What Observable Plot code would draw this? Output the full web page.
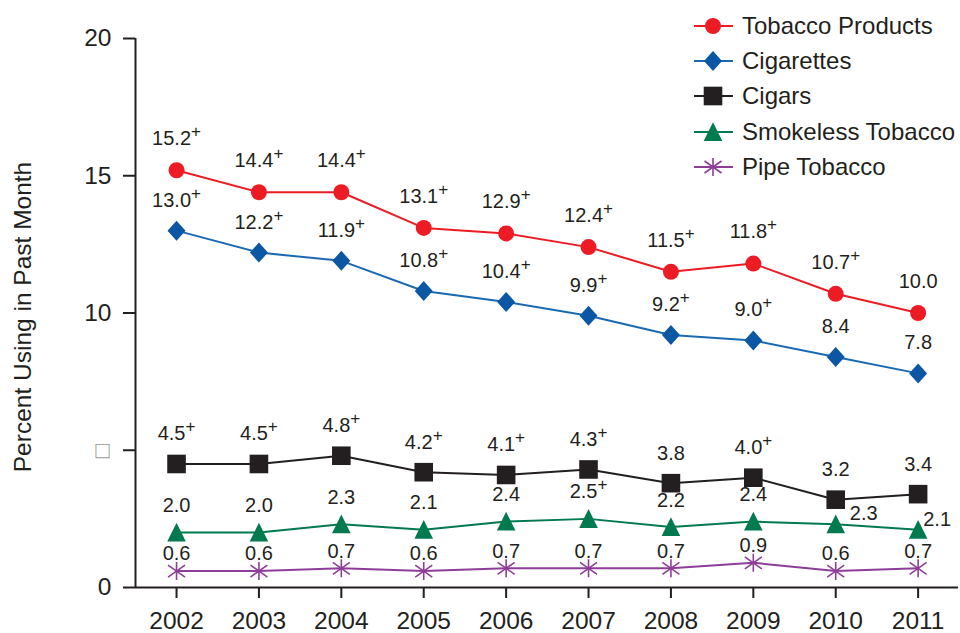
<!DOCTYPE html>
<html><head><meta charset="utf-8">
<script src="https://cdn.jsdelivr.net/npm/d3@7"></script>
<script src="https://cdn.jsdelivr.net/npm/@observablehq/plot@0.6"></script>
<style>
body{margin:0;background:#fff;font-family:"Liberation Sans",Arial,sans-serif;}
#wrap{position:relative;width:960px;height:633px;overflow:hidden;}
#legend{position:absolute;left:690px;top:8.5px;}
.row{display:flex;align-items:center;height:35.2px;}
.row span{font-size:24px;color:#231f20;margin-left:4px;white-space:nowrap;}
</style></head><body>
<div id="wrap"><div id="chart"></div><div id="legend"></div></div>
<script>
const years = [2002, 2003, 2004, 2005, 2006, 2007, 2008, 2009, 2010, 2011];
const seriesNames = ["Tobacco Products", "Cigarettes", "Cigars", "Smokeless Tobacco", "Pipe Tobacco"];
const tobaccoProducts = [15.2, 14.4, 14.4, 13.1, 12.9, 12.4, 11.5, 11.8, 10.7, 10.0];
const cigarettes      = [13.0, 12.2, 11.9, 10.8, 10.4, 9.9, 9.2, 9.0, 8.4, 7.8];
const cigars          = [4.5, 4.5, 4.8, 4.2, 4.1, 4.3, 3.8, 4.0, 3.2, 3.4];
const smokeless       = [2.0, 2.0, 2.3, 2.1, 2.4, 2.5, 2.2, 2.4, 2.3, 2.1];
const pipeTobacco     = [0.6, 0.6, 0.7, 0.6, 0.7, 0.7, 0.7, 0.9, 0.6, 0.7];
// "+" marks: difference from 2011 statistically significant
const tobaccoSig   = [1, 1, 1, 1, 1, 1, 1, 1, 1, 0];
const cigarettesSig = [1, 1, 1, 1, 1, 1, 1, 1, 0, 0];
const cigarsSig    = [1, 1, 1, 1, 1, 1, 0, 1, 0, 0];
const smokelessSig = [0, 0, 0, 0, 0, 1, 0, 0, 0, 0];
const pipeSig      = [0, 0, 0, 0, 0, 0, 0, 0, 0, 0];
const yTicks = [0, 5, 10, 15, 20];

const seriesValues = [tobaccoProducts, cigarettes, cigars, smokeless, pipeTobacco];
const seriesSig = [tobaccoSig, cigarettesSig, cigarsSig, smokelessSig, pipeSig];
const lineColors = ["#ed1c24", "#1a69b3", "#231f20", "#007a4e", "#8e3e98"];
const markColors = ["#ed1c24", "#0b57a4", "#231f20", "#007a4e", "#8e3e98"];
const labelDy = [-31.5, -30.5, -30, -27, -17];

const symDiamond = {draw(c){c.moveTo(0,-10);c.lineTo(9,0);c.lineTo(0,10);c.lineTo(-9,0);c.closePath();}};
const symSquare = {draw(c){c.rect(-9.3,-9.3,18.6,18.6);}};
const symTriangle = {draw(c){c.moveTo(0,-9.8);c.lineTo(9.3,9);c.lineTo(-9.3,9);c.closePath();}};
const symAsterisk = {draw(c){c.moveTo(0,-9);c.lineTo(0,9);c.moveTo(-8.5,-6);c.lineTo(8.5,6);c.moveTo(-8.5,6);c.lineTo(8.5,-6);}};
const symbols = ["circle", symDiamond, symSquare, symTriangle, symAsterisk];

const rows = [];
seriesNames.forEach((s, i) => years.forEach((yr, j) => rows.push({
  series: s, si: i, year: yr, value: seriesValues[i][j],
  label: seriesValues[i][j].toFixed(1) + (seriesSig[i][j] ? "+" : "")
})));

const marks = [];
seriesNames.forEach((s, i) => {
  const d = rows.filter(r => r.si === i);
  marks.push(Plot.line(d, {x: "year", y: "value", stroke: lineColors[i], strokeWidth: 2}));
});
seriesNames.forEach((s, i) => {
  const d = rows.filter(r => r.si === i);
  if (i === 4) {
    marks.push(Plot.dot(d, {x: "year", y: "value", symbol: () => symbols[i], r: 8, fill: "none", stroke: markColors[i], strokeWidth: 1.6}));
  } else {
    marks.push(Plot.dot(d, {x: "year", y: "value", symbol: () => symbols[i], r: 8, fill: markColors[i], stroke: "none"}));
  }
});
const labelStyle = {x: "year", y: "value", text: "label", fontSize: 20, fill: "#231f20", lineAnchor: "middle", textAnchor: "middle"};
seriesNames.forEach((s, i) => {
  const d = rows.filter(r => r.si === i);
  if (i === 3) {
    marks.push(Plot.text(d.filter(r => r.year < 2010), {...labelStyle, dy: labelDy[i]}));
    marks.push(Plot.text(d.filter(r => r.year === 2010), {...labelStyle, dx: 28, dy: -10.5}));
    marks.push(Plot.text(d.filter(r => r.year === 2011), {...labelStyle, dx: 19, dy: -10}));
  } else {
    marks.push(Plot.text(d, {...labelStyle, dy: labelDy[i]}));
  }
});

const chart = Plot.plot({
  width: 960, height: 633,
  marginLeft: 135, marginRight: 2, marginTop: 38, marginBottom: 46,
  style: {fontFamily: '"Liberation Sans", Arial, sans-serif', color: "#231f20", background: "#fff"},
  x: {domain: [2001.502, 2011.49]},
  y: {domain: [0, 20]},
  marks: [
    Plot.axisX({ticks: years, tickFormat: d => String(d), tickSize: 11, tickPadding: 13, fontSize: 24.5, strokeWidth: 2, label: null}),
    Plot.axisY({ticks: yTicks, tickFormat: d => d === 5 ? "\u25A1" : String(d), tickSize: 12, tickPadding: 12, fontSize: 24.5, strokeWidth: 2, label: null}),
    Plot.ruleX([2001.502], {stroke: "#231f20", strokeWidth: 2}),
    Plot.ruleY([0], {stroke: "#231f20", strokeWidth: 2}),
    Plot.text(["Percent Using in Past Month"], {frameAnchor: "left", textAnchor: "middle", lineAnchor: "middle", rotate: -90, dx: -112, dy: 4, fontSize: 24.5, fill: "#231f20"}),
    ...marks
  ]
});

d3.select(chart).selectAll("text").each(function () {
  const t = this.textContent;
  if (/^\d+\.\d\+$/.test(t)) {
    const sel = d3.select(this);
    sel.text(t.slice(0, -1));
    sel.append("tspan").attr("dy", -8).attr("font-size", 17).text("+");
  } else if (t === "\u25A1") {
    d3.select(this).attr("fill", "#a8a8a8").attr("font-size", 19).attr("font-family", "DejaVu Sans");
  }
});
document.getElementById("chart").appendChild(chart);

// legend
const legend = d3.select("#legend");
seriesNames.forEach((s, i) => {
  const row = legend.append("div").attr("class", "row");
  const svg = row.append("svg").attr("width", 48).attr("height", 30);
  svg.append("line").attr("x1", 4).attr("x2", 43).attr("y1", 15).attr("y2", 15).attr("stroke", lineColors[i]).attr("stroke-width", 2);
  const p = d3.path();
  if (i === 0) { p.arc(0, 0, 8, 0, 2 * Math.PI); } else { symbols[i].draw(p); }
  const path = svg.append("path").attr("d", p.toString()).attr("transform", "translate(23,15)");
  if (i === 4) path.attr("fill", "none").attr("stroke", markColors[i]).attr("stroke-width", 1.6);
  else path.attr("fill", markColors[i]);
  row.append("span").text(s);
});
</script>
</body></html>
